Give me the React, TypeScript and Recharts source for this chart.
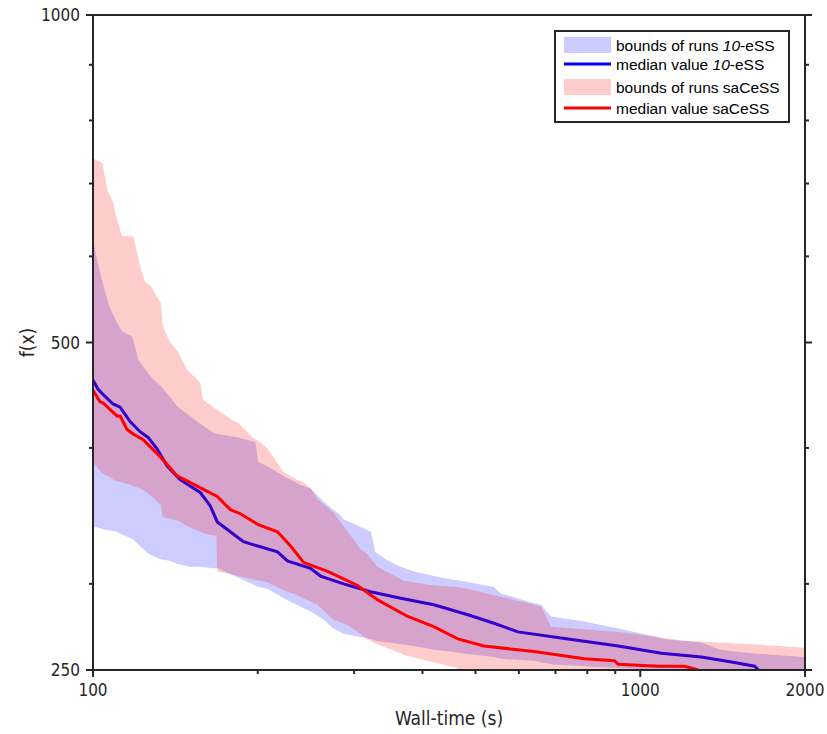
import React from 'react';
import { ComposedChart, Area, Line, XAxis, YAxis, Legend } from 'recharts';

// axis ticks
const timeTicks = [100, 200, 300, 400, 500, 600, 700, 800, 900, 1000, 2000];
const timeLabels = [100, 1000, 2000];
const fTicks = [250, 300, 400, 500, 600, 700, 800, 900, 1000];
const fLabels = [250, 500, 1000];

// bounds of runs 10-eSS
const essTime = [100, 102, 104, 107, 110.5, 113, 118, 121, 126, 129, 133, 138, 142.5, 150.5, 157, 166, 169, 184, 198, 200.5, 208, 223, 239, 250, 264, 275, 283, 287, 322, 328, 346, 365, 386, 420, 450, 470, 540, 556, 640, 659, 687, 790, 912, 1080, 1100, 1293, 1400, 1597, 2000];
const essLow = [339, 338, 337, 336, 335, 333, 330, 326, 320, 318, 316, 315, 313, 311, 311, 310, 310, 304, 299, 298, 297, 291, 286, 283, 278, 273, 271, 270, 267, 266, 265, 264, 263, 261, 260, 259, 257, 256, 255, 254, 253, 252, 251, 250, 249, 249, 249, 249, 249];
const essHigh = [622, 592, 569, 540, 522, 512, 506, 482, 469, 462, 456, 446, 437, 428, 421, 413, 412, 409, 405, 388, 385, 377, 370, 367, 357, 351, 347, 344, 335, 321, 315, 311, 308, 305, 303, 302, 298, 294, 288, 287, 280, 277, 273, 268, 267, 265, 261, 259, 257];

// bounds of runs saCeSS
const sacTime = [100, 104, 106.5, 109, 110, 113, 118.5, 122, 124.5, 128, 131, 133, 134, 135.5, 138.5, 143, 148.5, 152.5, 157, 159, 168, 168.7, 180, 184, 196, 202, 208, 211, 223, 236, 242, 250, 257, 275, 292, 308, 316, 331, 365, 370, 420, 462, 480, 556, 640, 659, 687, 912, 1204, 1597, 2000];
const sacLow = [388, 379, 377, 374, 373, 372, 369, 367, 365, 361, 357, 355, 346, 345, 344, 343, 339, 337, 335, 334, 332, 308, 306, 305, 303, 302, 301, 300, 296, 293, 291, 289, 287, 278, 275, 270, 267, 264, 259, 258, 254, 251, 247, 247, 247, 247, 247, 247, 247, 247, 247];
const sacHigh = [738, 731, 688, 672, 655, 626, 626, 587, 569, 562, 550, 544, 520, 511, 500, 490, 472, 466, 459, 443, 434, 434, 424, 422, 409, 405, 400, 396, 380, 374, 372, 367, 359, 349, 335, 323, 320, 311, 303, 302, 299, 298, 297, 292, 287, 286, 274, 271, 266, 264, 262];

// median value 10-eSS
const essMedTime = [100, 102.1, 104.3, 108.8, 112.1, 116.9, 121.9, 126.1, 131, 136.6, 144.3, 157, 163.7, 168.7, 178.2, 188.3, 217.3, 226.6, 249.7, 260.5, 287, 321.6, 364.9, 419.5, 484.2, 540.4, 597.8, 738.3, 911.8, 1093, 1293, 1487, 1618, 1645];
const essMed = [462, 453, 448, 439, 436, 423, 414, 409, 399, 385, 374, 364, 354, 342, 335, 328, 321, 315, 310, 305, 300, 295, 291, 287, 281, 276, 271, 267, 263, 259, 257, 254, 252, 250];

// median value saCeSS
const sacMedTime = [100, 103, 104.3, 110.6, 112.1, 115.4, 118.4, 123.5, 134.3, 142.5, 155, 168.7, 178.2, 185.9, 200.5, 217.3, 229.6, 242.4, 268.3, 304.4, 331.3, 375.9, 419.5, 464.2, 518, 639.5, 789.9, 896.6, 911.8, 1079, 1204, 1277];
const sacMed = [452, 441, 440, 428, 428, 416, 412, 407, 390, 377, 369, 361, 351, 348, 340, 335, 325, 314, 308, 299, 290, 280, 274, 267, 263, 260, 256, 255, 253, 252, 252, 250];

const essBand = essTime.map((t, i) => ({ t, range: [essLow[i], essHigh[i]] }));
const sacBand = sacTime.map((t, i) => ({ t, range: [sacLow[i], sacHigh[i]] }));
const essLine = essMedTime.map((t, i) => ({ t, v: essMed[i] }));
const sacLine = sacMedTime.map((t, i) => ({ t, v: sacMed[i] }));

const AXIS = '#262626';
const tickFont = "'DejaVu Sans Condensed', 'DejaVu Sans', sans-serif";
const legendFont = "'Liberation Sans', Arial, sans-serif";

const LeftTick = (props: any) => {
  const { x, y, payload } = props;
  const major = fLabels.includes(payload.value);
  return (
    <g>
      <line x1={x} y1={y} x2={x - (major ? 7 : 4)} y2={y} stroke={AXIS} strokeWidth={2} />
      {major && (
        <text x={x - 13} y={y} dy="0.36em" textAnchor="end" fill={AXIS} fontSize={17} fontFamily={tickFont}>
          {payload.value}
        </text>
      )}
    </g>
  );
};

const RightTick = (props: any) => {
  const { x, y, payload } = props;
  const major = fLabels.includes(payload.value);
  return <line x1={x} y1={y} x2={x + (major ? 7 : 4)} y2={y} stroke={AXIS} strokeWidth={2} />;
};

const BottomTick = (props: any) => {
  const { x, y, payload } = props;
  const major = timeLabels.includes(payload.value);
  return (
    <g>
      <line x1={x} y1={y} x2={x} y2={y + (major ? 7 : 4)} stroke={AXIS} strokeWidth={2} />
      {major && (
        <text x={x} y={y + 20} dy="0.36em" textAnchor="middle" fill={AXIS} fontSize={17} fontFamily={tickFont}>
          {payload.value}
        </text>
      )}
    </g>
  );
};

const TopTick = (props: any) => {
  const { x, y, payload } = props;
  const major = timeLabels.includes(payload.value);
  return <line x1={x} y1={y} x2={x} y2={y - (major ? 7 : 4)} stroke={AXIS} strokeWidth={2} />;
};

const LegendBox = () => {
  const rows = [13, 32, 55, 76];
  const txt = { fontSize: 15.5, fontFamily: legendFont, fill: '#000' };
  return (
    <div style={{ width: 236, height: 93, boxSizing: 'border-box', border: `2px solid ${AXIS}`, background: '#fff' }}>
      <svg width={232} height={89} style={{ display: 'block' }}>
        <rect x={8} y={rows[0] - 8} width={47} height={16} fill="#ccccff" />
        <text x={60} y={rows[0]} dy="0.36em" {...txt}>
          bounds of runs <tspan fontStyle="italic">10</tspan>-eSS
        </text>
        <line x1={8} x2={55} y1={rows[1]} y2={rows[1]} stroke="#0000ff" strokeWidth={3} />
        <text x={60} y={rows[1]} dy="0.36em" {...txt}>
          median value <tspan fontStyle="italic">10</tspan>-eSS
        </text>
        <rect x={8} y={rows[2] - 8} width={47} height={16} fill="#ffcccc" />
        <text x={60} y={rows[2]} dy="0.36em" {...txt}>
          bounds of runs saCeSS
        </text>
        <line x1={8} x2={55} y1={rows[3]} y2={rows[3]} stroke="#ff0000" strokeWidth={3} />
        <text x={60} y={rows[3]} dy="0.36em" {...txt}>
          median value saCeSS
        </text>
      </svg>
    </div>
  );
};

const App = () => {
  return (
    <div style={{ position: 'absolute', left: 0, top: 0, background: '#fff' }}>
      <ComposedChart width={827} height={734} margin={{ top: 0, right: 0, bottom: 0, left: 0 }}>
        <XAxis
          xAxisId="b"
          dataKey="t"
          type="number"
          scale="log"
          domain={[100, 2000]}
          allowDataOverflow
          ticks={timeTicks}
          interval={0}
          height={64}
          tickSize={0}
          tickMargin={0}
          tickLine={false}
          axisLine={{ stroke: AXIS, strokeWidth: 2 }}
          tick={<BottomTick />}
          label={(p: any) => (
            <text
              x={p.viewBox.x + p.viewBox.width / 2}
              y={p.viewBox.y + 48}
              dy="0.36em"
              textAnchor="middle"
              fill={AXIS}
              fontSize={19}
              fontFamily={tickFont}
            >
              Wall-time (s)
            </text>
          )}
        />
        <XAxis
          xAxisId="t"
          orientation="top"
          type="number"
          scale="log"
          domain={[100, 2000]}
          allowDataOverflow
          ticks={timeTicks}
          interval={0}
          height={15}
          tickSize={0}
          tickMargin={0}
          tickLine={false}
          axisLine={{ stroke: AXIS, strokeWidth: 2 }}
          tick={<TopTick />}
        />
        <YAxis
          yAxisId="l"
          type="number"
          scale="log"
          domain={[250, 1000]}
          allowDataOverflow
          ticks={fTicks}
          interval={0}
          width={93}
          tickSize={0}
          tickMargin={0}
          tickLine={false}
          axisLine={{ stroke: AXIS, strokeWidth: 2 }}
          tick={<LeftTick />}
          label={(p: any) => (
            <text
              x={27}
              y={p.viewBox.y + p.viewBox.height / 2}
              dy="0.36em"
              textAnchor="middle"
              fill={AXIS}
              fontSize={19}
              fontFamily={tickFont}
              transform={`rotate(-90 27 ${p.viewBox.y + p.viewBox.height / 2})`}
            >
              f(x)
            </text>
          )}
        />
        <YAxis
          yAxisId="r"
          orientation="right"
          type="number"
          scale="log"
          domain={[250, 1000]}
          allowDataOverflow
          ticks={fTicks}
          interval={0}
          width={22}
          tickSize={0}
          tickMargin={0}
          tickLine={false}
          axisLine={{ stroke: AXIS, strokeWidth: 2 }}
          tick={<RightTick />}
        />
        <Area
          xAxisId="b"
          yAxisId="l"
          data={essBand}
          dataKey="range"
          type="linear"
          stroke="none"
          fill="#0000ff"
          fillOpacity={0.2}
          isAnimationActive={false}
        />
        <Area
          xAxisId="b"
          yAxisId="l"
          data={sacBand}
          dataKey="range"
          type="linear"
          stroke="none"
          fill="#ff0000"
          fillOpacity={0.2}
          isAnimationActive={false}
        />
        {/* the 10-eSS median sits under the translucent saCeSS band in the original */}
        <Line
          xAxisId="b"
          yAxisId="l"
          data={essLine}
          dataKey="v"
          type="linear"
          stroke="#3300cc"
          strokeWidth={3}
          dot={false}
          isAnimationActive={false}
        />
        <Line
          xAxisId="b"
          yAxisId="l"
          data={sacLine}
          dataKey="v"
          type="linear"
          stroke="#ff0000"
          strokeWidth={3}
          dot={false}
          isAnimationActive={false}
        />
        <Legend
          layout="vertical"
          align="center"
          verticalAlign="middle"
          content={() => <LegendBox />}
          wrapperStyle={{ position: 'absolute', left: 554, top: 30, width: 236, height: 93 }}
        />
      </ComposedChart>
    </div>
  );
};

export default App;
